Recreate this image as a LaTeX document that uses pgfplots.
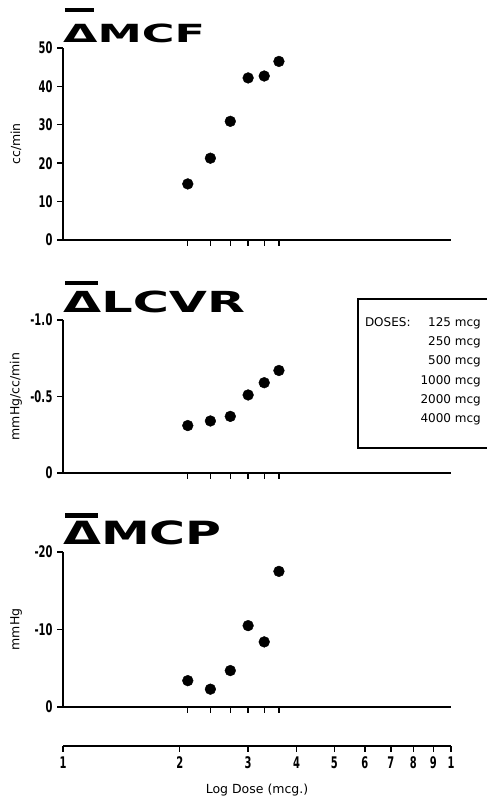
\documentclass[border=0pt]{standalone}
\usepackage{fontspec}
\usepackage{graphicx}
\usepackage{pgfplots}
\pgfplotsset{compat=1.18}
\setmainfont{DejaVu Sans}
\newfontfamily\tickfont[FakeStretch=0.62]{DejaVu Sans}
\newcommand{\tl}[1]{\mbox{\tickfont\bfseries\fontsize{16bp}{18bp}\selectfont #1}}

% #1 hscale, #2 vscale, #3 raise of the bar, #4 letters
\newcommand{\paneltitle}[4]{%
  \scalebox{#1}[#2]{\fontsize{10bp}{12bp}\selectfont\bfseries
    \rlap{\hspace{0.4bp}\raisebox{#3}{\rule{6.6bp}{1.6bp}}}Δ#4}}

\pgfplotsset{
  panel/.style={
    scale only axis, width=388bp, anchor=south west,
    xmin=1, xmax=10,
    axis x line=bottom, axis y line=left,
    axis line style={-, line width=1.8bp},
    every tick/.style={black, line width=1.4bp},
    tick align=outside, major tick length=6bp,
    xtick={2.097,2.398,2.699,3.0,3.301,3.602}, xticklabels={},
    minor xtick={},
    yticklabel style={xshift=-1bp},
    ylabel style={at={(rel axis cs:-0.121,0.5)}, anchor=center,
      font=\fontsize{12.5bp}{14bp}\selectfont},
    clip=false,
  },
  dots/.style={only marks, mark=*, mark size=5.4bp, black},
}

\begin{document}
\begin{tikzpicture}[x=1bp, y=1bp]
\useasboundingbox (0,0) rectangle (487,801);

% mean change in MCF
\begin{axis}[xmode=log, panel, at={(63bp,561bp)}, height=192bp,
  ymin=0, ymax=50, ytick={0,10,20,30,40,50},
  yticklabels={\tl{0},\tl{10},\tl{20},\tl{30},\tl{40},\tl{50}},
  ylabel={cc/min}]
\addplot[dots] coordinates {
  (2.097,14.6) (2.398,21.3) (2.699,30.9) (3.0,42.2) (3.301,42.7) (3.602,46.5)};
\end{axis}
\node[anchor=base west, inner sep=0] at (63,758) {\paneltitle{4.45}{2.5}{12.5bp}{MCF}};

% mean change in LCVR
\begin{axis}[xmode=log, panel, at={(63bp,328bp)}, height=153bp, y dir=reverse,
  ymin=-1, ymax=0, ytick={-1,-0.5,0},
  yticklabels={\tl{-1.\kern0.5bp0},\tl{-0.\kern0.5bp5},\tl{0}},
  ylabel={mmHg/cc/min}]
\addplot[dots] coordinates {
  (2.097,-0.31) (2.398,-0.34) (2.699,-0.37) (3.0,-0.51) (3.301,-0.59) (3.602,-0.67)};
\end{axis}
\node[anchor=base west, inner sep=0] at (63,488) {\paneltitle{4.93}{2.9}{9.5bp}{LCVR}};

% dose box
\draw[line width=1.3bp] (492,502) -- (358,502) -- (358,353) -- (492,353);
\node[anchor=north east, inner sep=0] at (481,488.5) {%
  \fontsize{12bp}{19.3bp}\selectfont
  \begin{tabular}{@{}l@{\hspace{10bp}}r@{}}
  DOSES: & 125 mcg\\
         & 250 mcg\\
         & 500 mcg\\
         & 1000 mcg\\
         & 2000 mcg\\
         & 4000 mcg
  \end{tabular}};

% mean change in MCP
\begin{axis}[xmode=log, panel, at={(63bp,94bp)}, height=155bp, y dir=reverse,
  ymin=-20, ymax=0, ytick={-20,-10,0}, yticklabels={\tl{-20},\tl{-10},\tl{0}},
  ylabel={mmHg}]
\addplot[dots] coordinates {
  (2.097,-3.4) (2.398,-2.3) (2.699,-4.7) (3.0,-10.5) (3.301,-8.4) (3.602,-17.5)};
\end{axis}
\node[anchor=base west, inner sep=0] at (63,256) {\paneltitle{4.9}{3.2}{8.5bp}{MCP}};

% shared log dose scale
\begin{axis}[xmode=log, at={(63bp,55bp)}, anchor=south west, scale only axis,
  width=388bp, height=10bp, xmin=1, xmax=10, ymin=0, ymax=1,
  axis x line=bottom, axis y line=none,
  axis line style={-, line width=1.8bp},
  every tick/.style={black, line width=1.4bp},
  tick align=outside, major tick length=6bp,
  xtick={1,2,3,4,5,6,7,8,9,10},
  xticklabels={\tl{1},\tl{2},\tl{3},\tl{4},\tl{5},\tl{6},\tl{7},\tl{8},\tl{9},\tl{1}},
  xticklabel style={yshift=-1bp},
  minor xtick={},
  xlabel={Log Dose (mcg.)},
  xlabel style={at={(rel axis cs:0.5,0)}, anchor=center, yshift=-44bp,
    font=\fontsize{12.5bp}{15bp}\selectfont}]
\end{axis}
\end{tikzpicture}
\end{document}
